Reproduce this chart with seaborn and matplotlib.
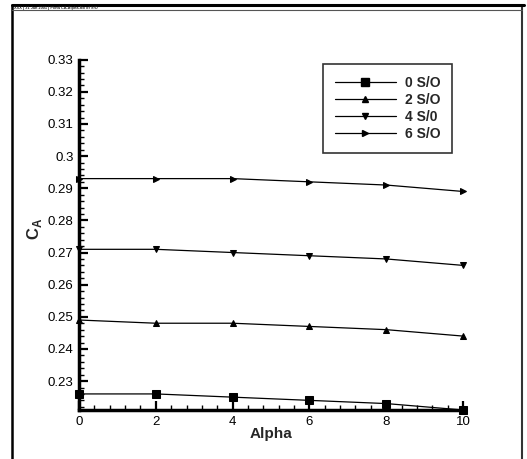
import matplotlib
matplotlib.use("Agg")
import matplotlib.pyplot as plt
import seaborn as sns
import pandas as pd
from matplotlib.lines import Line2D
from matplotlib.ticker import MultipleLocator

alpha = [0, 2, 4, 6, 8, 10]
series_names = ["0 S/O", "2 S/O", "4 S/0", "6 S/O"]
ca_0 = [0.226, 0.226, 0.225, 0.224, 0.223, 0.221]
ca_2 = [0.249, 0.248, 0.248, 0.247, 0.246, 0.244]
ca_4 = [0.271, 0.271, 0.270, 0.269, 0.268, 0.266]
ca_6 = [0.293, 0.293, 0.293, 0.292, 0.291, 0.289]
x_ticks = [0, 2, 4, 6, 8, 10]
y_ticks = [0.23, 0.24, 0.25, 0.26, 0.27, 0.28, 0.29, 0.3, 0.31, 0.32, 0.33]
y_tick_labels = ["0.23", "0.24", "0.25", "0.26", "0.27", "0.28", "0.29", "0.3", "0.31", "0.32", "0.33"]

sns.set_style("white")
plt.rcParams["font.family"] = ["Liberation Sans", "DejaVu Sans"]
plt.rcParams["mathtext.fontset"] = "custom"
plt.rcParams["mathtext.rm"] = "Liberation Sans"
plt.rcParams["mathtext.bf"] = "Liberation Sans:bold"

rows = []
for name, vals in zip(series_names, [ca_0, ca_2, ca_4, ca_6]):
    for a, v in zip(alpha, vals):
        rows.append({"Alpha": a, "CA": v, "series": name})
df = pd.DataFrame(rows)

W, H = 527, 459
fig = plt.figure(figsize=(W / 100, H / 100), dpi=100)
ax = fig.add_axes([79 / W, 1 - 410 / H, (463 - 79) / W, (410 - 59.7) / H])

markers = {"0 S/O": "s", "2 S/O": "^", "4 S/0": "v", "6 S/O": ">"}
sizes_ms = {"0 S/O": 6, "2 S/O": 5, "4 S/0": 5, "6 S/O": 5}
palette = {n: "black" for n in series_names}
sns.lineplot(data=df, x="Alpha", y="CA", hue="series", style="series",
             markers=markers, dashes=False, palette=palette, ax=ax,
             linewidth=0.9, markersize=5, markeredgecolor="black",
             clip_on=False, legend=False)
for line, n in zip(ax.get_lines(), series_names):
    line.set_markersize(sizes_ms[n])

ax.set_xlim(0, 10)
ax.set_ylim(0.221, 0.33)
ax.set_xticks(x_ticks)
ax.set_xticklabels([str(t) for t in x_ticks])
ax.set_yticks(y_ticks)
ax.set_yticklabels(y_tick_labels)
ax.xaxis.set_minor_locator(MultipleLocator(0.4))
ax.yaxis.set_minor_locator(MultipleLocator(0.002))
ax.tick_params(which="major", direction="in", length=6.5, width=1.6,
               labelsize=9.5, pad=4, colors="black")
ax.tick_params(which="minor", direction="in", length=3.5, width=1.0, colors="black")
ax.tick_params(axis="y", which="both", left=True, right=False)
ax.tick_params(axis="x", which="both", bottom=True, top=False)
for s in ["top", "right"]:
    ax.spines[s].set_visible(False)
for s in ["left", "bottom"]:
    ax.spines[s].set_linewidth(2.5)
    ax.spines[s].set_color("black")
ax.set_xlabel("")
ax.set_ylabel("")
fig.text(271 / W, 1 - 434 / H, "Alpha", ha="center", va="center",
         fontsize=11, fontweight="bold")
fig.text(35 / W, 1 - 229 / H, r"$\mathbf{C}_\mathbf{A}$", ha="center",
         va="center", rotation=90, fontsize=12)

handles = [Line2D([], [], color="black", lw=0.9, marker=markers[n],
                  markersize=sizes_ms[n], markeredgecolor="black")
           for n in series_names]
leg = ax.legend(handles, series_names, loc="upper left",
                bbox_to_anchor=(322.7 / W, 1 - 64.3 / H),
                bbox_transform=fig.transFigure, frameon=True, fancybox=False,
                handlelength=4.4, handletextpad=0.65, labelspacing=0.22,
                borderpad=0.85, borderaxespad=0, prop={"weight": "bold", "size": 10})
leg.get_frame().set_edgecolor("black")
leg.get_frame().set_linewidth(1.2)

# page frame and header
fig.add_artist(Line2D([12 / W, 12 / W], [0, 1 - 5 / H], transform=fig.transFigure,
                      color="black", lw=1.8))
fig.add_artist(Line2D([522 / W, 522 / W], [0, 1 - 5 / H], transform=fig.transFigure,
                      color="#333333", lw=1.5))
fig.add_artist(Line2D([12 / W, 524 / W], [1 - 5 / H, 1 - 5 / H], transform=fig.transFigure,
                      color="black", lw=2.2))
fig.add_artist(Line2D([12 / W, 522 / W], [1 - 9.7 / H, 1 - 9.7 / H], transform=fig.transFigure,
                      color="#555555", lw=0.8))
fig.text(14 / W, 1 - 7.6 / H, "XXX | 31 Jan 2001 | Plot4 CA-Alpha-No of S/O",
         fontsize=2.8, fontweight="bold", ha="left", va="center")

fig.savefig("out.png", dpi=100)
